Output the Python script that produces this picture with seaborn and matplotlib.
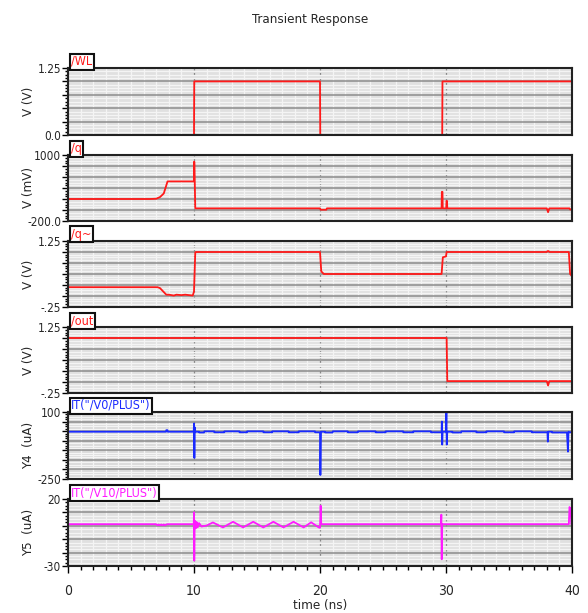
import matplotlib
matplotlib.use("Agg")
import matplotlib.pyplot as plt
import seaborn as sns
from matplotlib.ticker import MultipleLocator, FuncFormatter

sns.set_theme(style="white")
plt.rcParams['font.family'] = ['DejaVu Sans']
plt.rcParams['font.stretch'] = 'condensed'

wl_t = [0, 10.0, 10.02, 20.0, 20.02, 29.7, 29.72, 40]
wl_v = [0, 0, 1.0, 1.0, 0, 0, 1.0, 1.0]

q_t = [0, 6.5, 7.0, 7.3, 7.6, 7.9, 10.0, 10.02, 10.05, 10.1, 20.0, 20.05, 20.5, 20.55,
       29.65, 29.67, 29.72, 29.74, 30.02, 30.04, 30.08, 30.1, 38.0, 38.1, 38.2, 39.8, 39.85, 40]
q_v = [200, 200, 205, 235, 300, 520, 520, 880, 650, 30, 30, 5, 5, 30,
       30, 330, 330, 30, 30, 165, 165, 30, 30, -40, 30, 30, 10, 10]

qb_t = [0, 7.1, 7.3, 7.5, 7.8, 8.0, 8.4, 8.6, 9.0, 9.3, 9.6, 9.9, 10.0, 10.1, 10.15,
        20.0, 20.1, 20.3, 20.35, 29.65, 29.75, 30.0, 30.05, 38.0, 38.05, 38.15, 38.2,
        39.75, 39.85, 40]
qb_v = [0.2, 0.2, 0.18, 0.12, 0.03, 0.03, 0.01, 0.03, 0.02, 0.03, 0.02, 0.01, 0.1, 0.99, 1.0,
        1.0, 0.56, 0.5, 0.5, 0.5, 0.88, 0.9, 1.0, 1.0, 1.02, 1.02, 1.0,
        1.0, 0.5, 0.45]

out_t = [0, 30.05, 30.1, 38.0, 38.1, 38.2, 40]
out_v = [1.0, 1.0, 0.02, 0.02, -0.08, 0.02, 0.02]

y4_t = [0, 7.78, 7.8, 7.9, 7.92, 9.98, 10.0, 10.03, 10.06, 10.1, 10.4, 10.42, 10.8, 10.82,
        11.6, 11.62, 12.4, 12.42, 13.6, 13.62, 14.2, 14.22, 15.5, 15.52, 16.2, 16.22,
        17.5, 17.52, 18.3, 18.32, 19.6, 19.62, 20.0, 20.03, 20.08, 20.4, 20.42, 21.0, 21.02,
        22.2, 22.22, 23.0, 23.02, 24.4, 24.42, 25.2, 25.22, 26.6, 26.62, 27.4, 27.42, 28.8,
        28.82, 29.65, 29.67, 29.7, 29.73, 30.0, 30.03, 30.06, 30.1, 30.5, 30.52, 31.2, 31.22,
        32.4, 32.42, 33.2, 33.22, 34.6, 34.62, 35.4, 35.42, 36.8, 36.82, 38.05, 38.08, 38.12,
        38.4, 38.42, 39.6, 39.68, 39.72, 39.8, 40]
y4_v = [-3, -3, 5, 5, -3, -3, 40, -140, 20, -3, -3, -7, -7, -1,
        -1, -6, -6, -1, -1, -6, -6, -1, -1, -6, -6, -1,
        -1, -6, -6, -1, -1, -6, -6, -229, -3, -3, -7, -7, -1,
        -1, -6, -6, -1, -1, -6, -6, -1, -1, -6, -6, -1, -1,
        -6, -6, 50, -70, -3, -3, 95, -70, -3, -3, -7, -7, -1,
        -1, -6, -6, -1, -1, -6, -6, -1, -1, -6, -6, -55, -3,
        -3, -7, -7, -107, -3, -6, -6]

y5_t = [0, 7.0, 7.1, 7.2, 7.3, 7.4, 7.5, 7.6, 7.7, 7.8, 7.9, 9.98, 10.0, 10.02, 10.05,
        10.1, 10.15, 10.2, 10.25, 10.3, 10.4, 10.6, 11.0, 11.5, 12.3, 13.1, 13.9, 14.7,
        15.5, 16.3, 17.1, 17.9, 18.7, 19.3, 19.9, 20.0, 20.05, 20.1, 20.2, 29.6, 29.63,
        29.66, 29.7, 39.75, 39.8, 39.88, 39.95, 40]
y5_v = [1.2, 1.2, 0.4, 1.0, 0.4, 1.0, 0.4, 1.0, 0.4, 1.0, 1.2, 1.2, 10, -26, 4,
        -2, 3, -1.5, 2.5, -1, 2, -0.5, 0.2, 2.5, -1.2, 3, -1.2, 3,
        -1.2, 3, -1.2, 3, -1.2, 2.6, -1.2, -1.5, 15, 1.2, 1.2, 1.2, 8.3,
        -25, 1.2, 1.2, 14, 13, 1.2, 1.2]

traces = [
    ("/WL", wl_t, wl_v, "#ff1a1a", "V (V)", (0.0, 1.25), 0.25, ("0.0", "1.25")),
    ("/q", q_t, q_v, "#ff1a1a", "V (mV)", (-200, 1000), 200, ("-200.0", "1000")),
    ("/q~", qb_t, qb_v, "#ff1a1a", "V (V)", (-0.25, 1.25), 0.25, ("-.25", "1.25")),
    ("/out", out_t, out_v, "#ff1a1a", "V (V)", (-0.25, 1.25), 0.25, ("-.25", "1.25")),
    ('IT("/V0/PLUS")', y4_t, y4_v, "#1a2aff", "Y4  (uA)", (-250, 100), 50, ("-250", "100")),
    ('IT("/V10/PLUS")', y5_t, y5_v, "#ff1aff", "Y5  (uA)", (-30, 20), 10, ("-30", "20")),
]

# panel extents in pixels (top, bottom)
W, H = 588, 613
rows = [(68, 135), (155, 221), (241, 307), (327, 393), (412, 479), (499, 566)]
x0, x1 = 68, 572

fig = plt.figure(figsize=(W / 100, H / 100), dpi=100)

for i, ((name, t, v, col, ylab, (lo, hi), step, labs), (top, bot)) in enumerate(zip(traces, rows)):
    ax = fig.add_axes([x0 / W, 1 - bot / H, (x1 - x0) / W, (bot - top) / H])
    ax.set_facecolor("#d9d9d9" if i == 4 else "#e0e0e0")
    sns.lineplot(x=t, y=v, ax=ax, color=col, lw=1.3, estimator=None, sort=False, legend=False)
    ax.set_xlim(0, 40)
    ax.set_ylim(lo, hi)

    ax.yaxis.set_major_locator(MultipleLocator(step))
    ax.yaxis.set_minor_locator(MultipleLocator(step / 4))
    ax.xaxis.set_major_locator(MultipleLocator(10))
    ax.xaxis.set_minor_locator(MultipleLocator(1))
    ax.yaxis.set_major_formatter(FuncFormatter(
        lambda val, _, lo=lo, hi=hi, labs=labs:
        labs[0] if abs(val - lo) < 1e-6 else (labs[1] if abs(val - hi) < 1e-6 else "")))

    ax.set_axisbelow(True)
    ax.grid(which="minor", axis="both", color="#f4f4f4", lw=0.9)
    ax.grid(which="major", axis="y", color="#8c8c8c", lw=1.1)
    ax.grid(which="major", axis="x", color="#888888", lw=0.9, ls=(0, (2, 2)))

    for s in ax.spines.values():
        s.set_color("#222222")
        s.set_linewidth(1.5)

    ax.tick_params(axis="y", which="major", direction="out", length=4, width=1,
                   color="black", labelsize=8.5, pad=1, left=True)
    ax.tick_params(axis="y", which="minor", direction="out", length=2.5, width=1,
                   color="black", left=True)
    if i < 5:
        ax.tick_params(axis="x", which="both", length=0, labelbottom=False)
    else:
        ax.tick_params(axis="x", which="major", direction="out", length=5, width=1,
                       color="black", labelsize=10, pad=8, bottom=True)
        ax.tick_params(axis="x", which="minor", direction="out", length=3, width=1,
                       color="black", bottom=True)
        ax.set_xlabel("time (ns)", fontsize=9.5, labelpad=1)

    ax.set_ylabel(ylab, fontsize=9.5)
    ax.yaxis.set_label_coords(-0.065, 0.5)

    ax.text(0.006, 1.0, name, transform=ax.transAxes, ha="left", va="bottom",
            fontsize=9, color=col, zorder=10, clip_on=False,
            bbox=dict(boxstyle="square,pad=0.12", fc="white", ec="#111111", lw=1.5))

fig.text(310 / W, 1 - 20 / H, "Transient Response", ha="center", va="center", fontsize=9.5)

fig.savefig("out.png", dpi=100)
